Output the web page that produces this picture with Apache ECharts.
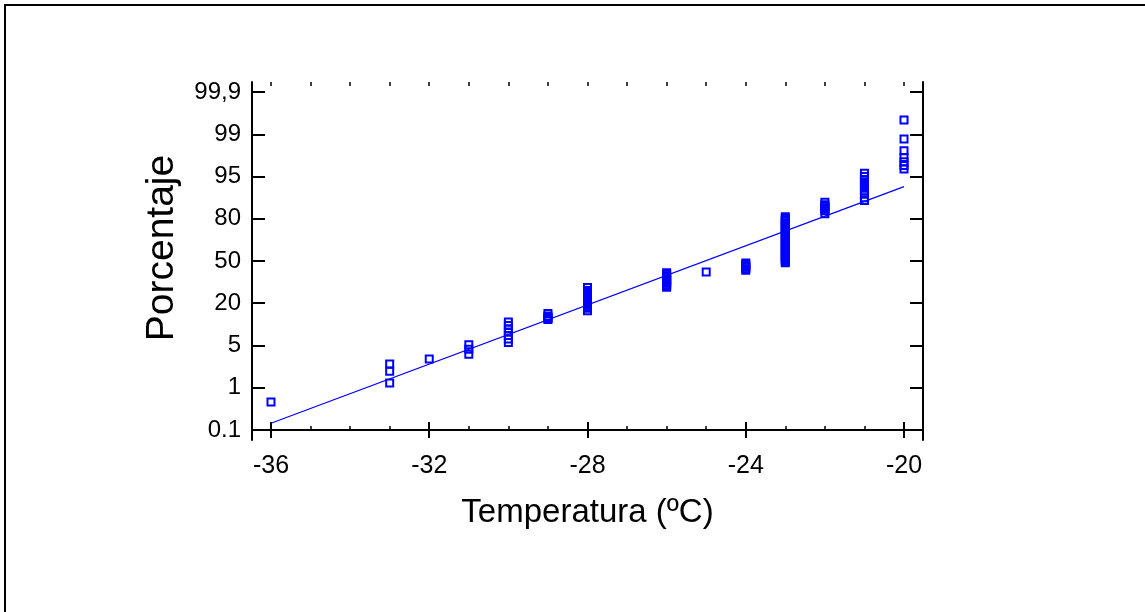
<!DOCTYPE html>
<html>
<head>
<meta charset="utf-8">
<script src="https://cdn.jsdelivr.net/npm/echarts@6/dist/echarts.min.js"></script>
<style>
  html, body { margin: 0; padding: 0; background: #fff; }
  #chart { width: 1145px; height: 612px; }
</style>
</head>
<body>
<div id="chart"></div>
<script>
// Normal probability plot: temperature (ºC) vs cumulative percentage.
// Y values are positions on the probability scale, in label steps (0 = 0.1 %, 8 = 99,9 %).
const probLabels = ['0.1', '1', '5', '20', '50', '80', '95', '99', '99,9'];
const xMajorTicks = [-36, -32, -28, -24, -20];
const xMinorTicks = [-36, -35, -34, -33, -32, -31, -30, -29, -28, -27, -26, -25, -24, -23, -22, -21, -20];

const temps = [-36, -33, -32, -31, -30, -29, -28, -26, -25, -24, -23, -22, -21, -20];
const probPositions = [
  [0.66],
  [1.11, 1.39, 1.56],
  [1.68],
  [1.79, 1.91, 2.02],
  [2.556, 2.473, 2.391, 2.320, 2.237, 2.154, 2.071],
  [2.757, 2.700, 2.665, 2.640, 2.615],
  [3.37, 3.30, 3.265, 3.23, 3.195, 3.16, 3.125, 3.09, 3.055, 3.02, 2.985, 2.95, 2.915, 2.88, 2.82],
  [3.72, 3.685, 3.65, 3.615, 3.58, 3.545, 3.51, 3.475, 3.44, 3.41, 3.38],
  [3.74],
  [3.95, 3.915, 3.88, 3.85, 3.815, 3.78],
  [5.05, 5.01, 4.98, 4.94, 4.90, 4.87, 4.83, 4.79, 4.76, 4.72, 4.68, 4.65, 4.61, 4.57, 4.54, 4.50,
   4.46, 4.43, 4.39, 4.35, 4.32, 4.28, 4.24, 4.21, 4.17, 4.13, 4.10, 4.06, 4.02, 3.99, 3.96],
  [5.39, 5.33, 5.295, 5.26, 5.225, 5.19, 5.12],
  [6.08, 6.00, 5.93, 5.86, 5.79, 5.72, 5.65, 5.58, 5.50, 5.43],
  [7.34, 6.89, 6.61, 6.45, 6.35, 6.26, 6.18]
];

// Fitted normal line (end points)
const fitTemps = [-36, -20];
const fitPositions = [0.16, 5.76];

const points = [];
temps.forEach((t, i) => probPositions[i].forEach(p => points.push([t, p])));
const fitLine = fitTemps.map((t, i) => [t, fitPositions[i]]);

const FONT = '"Liberation Sans", Arial, sans-serif';
const BLUE = '#0000ff';
const X_MIN = -36.48, X_MAX = -19.52;
const Y_MIN = -0.237, Y_MAX = 8.237;
const rect = { left: 252, top: 82, width: 671, height: 358 };
const probTicks = probLabels.map((_, i) => i);

const chart = echarts.init(document.getElementById('chart'), null, { renderer: 'canvas' });

const axisLine = { show: true, lineStyle: { color: '#000', width: 2 } };

chart.setOption({
  backgroundColor: '#fff',
  animation: false,
  grid: [
    Object.assign({ containLabel: false }, rect),
    Object.assign({ containLabel: false }, rect)
  ],
  xAxis: [
    {
      gridIndex: 0, type: 'value', position: 'bottom', min: X_MIN, max: X_MAX,
      axisLine: axisLine,
      splitLine: { show: false },
      axisTick: { show: true, inside: true, length: 8, customValues: xMajorTicks,
                  lineStyle: { color: '#000', width: 2 } },
      axisLabel: { show: true, customValues: xMajorTicks, margin: 14,
                   color: '#000', fontSize: 25, fontFamily: FONT },
      name: 'Temperatura (ºC)', nameLocation: 'middle', nameGap: 56,
      nameTextStyle: { color: '#000', fontSize: 33, fontFamily: FONT }
    },
    {
      gridIndex: 0, type: 'value', position: 'top', min: X_MIN, max: X_MAX,
      axisLine: axisLine,
      splitLine: { show: false },
      axisTick: { show: true, inside: true, length: 8, customValues: xMajorTicks,
                  lineStyle: { color: '#000', width: 2 } },
      axisLabel: { show: false }
    },
    {
      gridIndex: 1, type: 'value', position: 'bottom', min: X_MIN, max: X_MAX,
      axisLine: { show: false },
      splitLine: { show: false },
      axisTick: { show: true, inside: true, length: 4, customValues: xMinorTicks,
                  lineStyle: { color: '#000', width: 1.5 } },
      axisLabel: { show: false }
    },
    {
      gridIndex: 1, type: 'value', position: 'top', min: X_MIN, max: X_MAX,
      axisLine: { show: false },
      splitLine: { show: false },
      axisTick: { show: true, inside: true, length: 4, customValues: xMinorTicks,
                  lineStyle: { color: '#000', width: 1.5 } },
      axisLabel: { show: false }
    }
  ],
  yAxis: [
    {
      gridIndex: 0, type: 'value', position: 'left', min: Y_MIN, max: Y_MAX,
      axisLine: axisLine,
      splitLine: { show: false },
      axisTick: { show: true, inside: true, length: 13, customValues: probTicks,
                  lineStyle: { color: '#000', width: 2 } },
      axisLabel: { show: true, customValues: probTicks, margin: 11,
                   formatter: v => probLabels[Math.round(v)],
                   color: '#000', fontSize: 24, fontFamily: FONT },
      name: 'Porcentaje', nameLocation: 'middle', nameGap: 70,
      nameTextStyle: { color: '#000', fontSize: 39, fontFamily: FONT, padding: [0, 0, 0, 26] }
    },
    {
      gridIndex: 0, type: 'value', position: 'right', min: Y_MIN, max: Y_MAX,
      axisLine: axisLine,
      splitLine: { show: false },
      axisTick: { show: true, inside: true, length: 13, customValues: probTicks,
                  lineStyle: { color: '#000', width: 2 } },
      axisLabel: { show: false }
    },
    {
      gridIndex: 1, type: 'value', min: Y_MIN, max: Y_MAX, show: false
    }
  ],
  series: [
    {
      type: 'line', xAxisIndex: 0, yAxisIndex: 0, data: fitLine,
      showSymbol: false, symbol: 'none', silent: true,
      lineStyle: { color: BLUE, width: 1.2 }, z: 2
    },
    {
      type: 'scatter', xAxisIndex: 0, yAxisIndex: 0, data: points,
      symbol: 'rect', symbolSize: 7,
      itemStyle: { color: 'rgba(0,0,0,0)', borderColor: BLUE, borderWidth: 2, opacity: 1 },
      z: 3
    }
  ],
  graphic: [
    {
      type: 'polyline', silent: true, z: 10,
      shape: { points: [[5, 612], [5, 5], [1145, 5]] },
      style: { stroke: '#000', lineWidth: 2, fill: null }
    }
  ]
});
</script>
</body>
</html>
